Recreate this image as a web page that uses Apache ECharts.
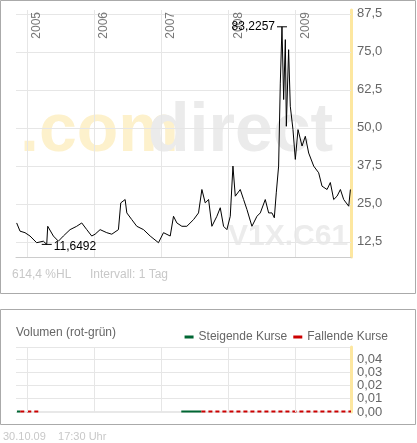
<!DOCTYPE html>
<html><head><meta charset="utf-8">
<script src="https://cdn.jsdelivr.net/npm/echarts@6/dist/echarts.min.js"></script>
<style>html,body{margin:0;padding:0;background:#fff}#c{width:417px;height:443px}</style>
</head><body><div id="c"></div>
<script>
const years = [2005, 2006, 2007, 2008, 2009];
const priceTicks = [12.5, 25, 37.5, 50, 62.5, 75, 87.5];
const volTicks = [0.01, 0.02, 0.03, 0.04];
const dates = [2004.846,2004.896,2004.970,2005.045,2005.144,2005.244,2005.294,2005.309,2005.393,2005.468,2005.542,2005.642,2005.741,2005.816,2005.891,2005.965,2006.015,2006.090,2006.189,2006.264,2006.363,2006.398,2006.463,2006.488,2006.562,2006.637,2006.737,2006.836,2006.960,2007.035,2007.135,2007.184,2007.234,2007.309,2007.383,2007.483,2007.557,2007.607,2007.657,2007.707,2007.756,2007.831,2007.881,2007.930,2007.980,2008.030,2008.070,2008.105,2008.179,2008.229,2008.279,2008.353,2008.428,2008.478,2008.552,2008.602,2008.652,2008.687,2008.716,2008.751,2008.776,2008.801,2008.826,2008.851,2008.866,2008.900,2008.925,2008.965,2009.000,2009.040,2009.100,2009.149,2009.199,2009.274,2009.348,2009.398,2009.473,2009.522,2009.572,2009.622,2009.672,2009.721,2009.796,2009.821];
const values = [18.7,16,15.5,14.4,12.2,12.7,11.6492,17.6,14.4,12.7,14.4,16.5,17.6,18.7,16.5,14.4,15,16.5,15.5,15,16.5,25.3,26.4,22,19.8,17.6,16.5,14.4,12.2,15.5,14.4,20.9,18.7,17.6,17.6,19.8,22,29.7,25.3,26.4,17.6,20.9,23.7,17.6,16.5,20.9,37.4,27.5,29.7,26.4,23.1,17.6,20.9,22,26.4,22,22,20.4,28.6,37.4,64.7,83.2257,59.3,79,50.5,75.7,57.1,49.4,39.6,49.4,44,47.2,41.7,37.4,35.2,30.8,29.7,32,26.4,27.5,29.7,26.4,24.2,29.7];
const volDates = [2004.85,2004.90,2005.10,2005.17,2005.19,2006.98,2007.00,2007.30,2007.6,2007.9,2008.2,2008.5,2008.8,2009.1,2009.4,2009.83];
const volUp =   [0.0004,0.0004,null,null,null,null,null,0.0004,0.0004,null,0.0004,null,0.0004,null,0.0004,null];
const volDown = [null,0.0004,0.0004,0.0004,0.0004,null,0.0004,null,0.0004,0.0004,0.0004,0.0004,0.0004,0.0004,0.0004,0.0004];

const fmt = (v, d) => v.toFixed(d).replace('.', ',');
const X0 = 2004.836, X1 = 2009.83;
const gridC = '#e6e6e6';
const yearLines = years.map(y => ({xAxis: y, label: {formatter: String(y)}}));
const chart = echarts.init(document.getElementById('c'));
chart.setOption({
  animation: false,
  textStyle: {fontFamily: 'Liberation Sans, Arial, sans-serif'},
  graphic: [
    {type: 'rect', shape: {x: 0.5, y: 0.5, width: 415, height: 293}, style: {fill: 'none', stroke: '#aaa'}, z: -10},
    {type: 'rect', shape: {x: 0.5, y: 309.5, width: 415, height: 115}, style: {fill: 'none', stroke: '#aaa'}, z: -10},
    {type: 'text', left: 20, top: 98, z: -5, style: {text: '.com', font: 'bold 68px Liberation Sans, Arial', fill: '#fdf1cc'}},
    {type: 'text', left: 148, top: 98, z: -5, style: {text: 'direct', font: 'bold 68px Liberation Sans, Arial', fill: '#ebebeb'}},
    {type: 'text', left: 228, top: 222, z: -5, style: {text: 'V1X.C61', font: 'bold 30px Liberation Sans, Arial', fill: '#ececec'}},
    {type: 'text', left: 12, top: 269, style: {text: '614,4 %HL', font: '12px Liberation Sans, Arial', fill: '#c8c8c8'}},
    {type: 'text', left: 90, top: 269, style: {text: 'Intervall: 1 Tag', font: '12px Liberation Sans, Arial', fill: '#c8c8c8'}},
    {type: 'text', left: 16, top: 327, style: {text: 'Volumen (rot-grün)', font: '12px Liberation Sans, Arial', fill: '#666'}},
    {type: 'text', left: 3, top: 431, style: {text: '30.10.09    17:30 Uhr', font: '11px Liberation Sans, Arial', fill: '#c8c8c8'}}
  ],
  legend: {right: 24, top: 326, itemWidth: 9, itemHeight: 3, itemGap: 6, icon: 'rect',
    textStyle: {color: '#666', fontSize: 12}, data: ['Steigende Kurse', 'Fallende Kurse']},
  grid: [
    {left: 16, right: 66, top: 10, height: 247},
    {left: 16, right: 66, top: 347, height: 65}
  ],
  xAxis: [
    {type: 'value', gridIndex: 0, min: X0, max: X1, axisLabel: {show: false}, axisTick: {show: false}, splitLine: {show: false}, axisLine: {lineStyle: {color: '#ccc'}}},
    {type: 'value', gridIndex: 1, min: X0, max: X1, axisLabel: {show: false}, axisTick: {show: false}, splitLine: {show: false}, axisLine: {show: false}}
  ],
  yAxis: [
    {type: 'value', gridIndex: 0, position: 'right', min: 7.5, max: 88.75, interval: 1.25,
      axisLine: {show: true, lineStyle: {color: '#fde7a0', width: 3}}, axisTick: {show: false}, splitLine: {show: false},
      axisLabel: {color: '#666', fontSize: 13, margin: 6, formatter: v => (Math.abs(v / 12.5 - Math.round(v / 12.5)) < 1e-6 && v >= 12.5) ? fmt(v, 1) : ''}},
    {type: 'value', gridIndex: 1, position: 'right', min: 0, max: 0.049, interval: 0.01,
      axisLine: {show: true, lineStyle: {color: '#fde7a0', width: 3}}, axisTick: {show: false},
      splitLine: {show: true, lineStyle: {color: gridC}},
      axisLabel: {color: '#666', fontSize: 13, margin: 6, lineHeight: 13, formatter: v => fmt(v, 2)}}
  ],
  series: [
    {type: 'line', xAxisIndex: 0, yAxisIndex: 0, data: dates.map((d, i) => [d, values[i]]),
      symbol: 'none', lineStyle: {color: '#000', width: 1}, z: 5,
      markLine: {silent: true, symbol: 'none', animation: false,
        lineStyle: {color: gridC, type: 'solid', width: 1},
        label: {position: 'insideEndBottom', color: '#777', fontSize: 12, distance: [2, 4]},
        data: yearLines.concat(priceTicks.map(t => ({yAxis: t, label: {show: false}})))},
      markPoint: {symbol: 'rect', symbolSize: [10, 1], itemStyle: {color: '#000'},
        label: {color: '#000', fontSize: 12, formatter: p => fmt(p.value, 4)},
        data: [
          {type: 'max', label: {position: 'left', distance: 2}},
          {type: 'min', label: {position: 'right', distance: 2, offset: [0, 2]}}
        ]}},
    {type: 'line', xAxisIndex: 1, yAxisIndex: 1, data: volDates.map(d => [d, 0]), symbol: 'none',
      lineStyle: {color: '#e8e8e8', width: 2},
      markLine: {silent: true, symbol: 'none', lineStyle: {color: gridC, type: 'solid'}, label: {show: false},
        data: years.map(y => ({xAxis: y}))}},
    {name: 'Steigende Kurse', type: 'line', xAxisIndex: 1, yAxisIndex: 1, data: volDates.map((d, i) => [d, volUp[i]]),
      symbol: 'none', lineStyle: {color: '#006633', width: 2}, itemStyle: {color: '#006633'}, connectNulls: false},
    {name: 'Fallende Kurse', type: 'line', xAxisIndex: 1, yAxisIndex: 1, data: volDates.map((d, i) => [d, volDown[i]]),
      symbol: 'none', lineStyle: {color: '#cc0000', width: 2, type: [4, 3]}, itemStyle: {color: '#cc0000'}, connectNulls: false}
  ]
});
</script></body></html>
